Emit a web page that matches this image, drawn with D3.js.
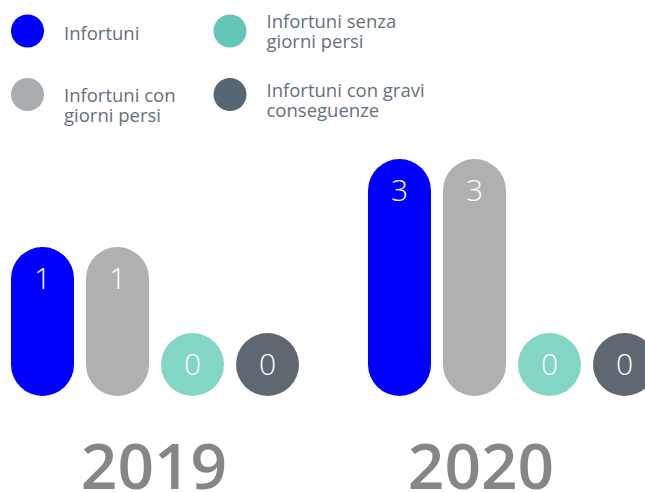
<!DOCTYPE html>
<html>
<head>
<meta charset="utf-8">
<script src="https://cdn.jsdelivr.net/npm/d3@7"></script>
<style>
	html, body { margin: 0; padding: 0; background: #fff; overflow: hidden; }
	svg { display: block; font-family: "Open Sans", sans-serif; }
</style>
</head>
<body>
<svg id="chart" width="645" height="492"></svg>
<script>
// dati
const years = ["2019", "2020"];
const seriesKeys = ["infortuni", "conGiorni", "senzaGiorni", "gravi"];
const legendLabels = [
	["Infortuni"],
	["Infortuni con", "giorni persi"],
	["Infortuni senza", "giorni persi"],
	["Infortuni con gravi", "conseguenze"]
];
const infortuni = [1, 3];
const conGiorni = [1, 3];
const senzaGiorni = [0, 0];
const gravi = [0, 0];

const barColors = ["#0000ff", "#b0b0b0", "#84d6c4", "#5f6770"];
const legendColors = ["#0000ff", "#a9adb0", "#64c6b6", "#566673"];

const values = { infortuni, conGiorni, senzaGiorni, gravi };

const svg = d3.select("#chart");
const baseY = 396;
const barW = 63;

// scale
const x0 = d3.scaleBand()
	.domain(years)
	.range([11, 725]);

const x1 = d3.scaleBand()
	.domain(seriesKeys)
	.range([0, 288])
	.paddingInner(0.16)
	.paddingOuter(0);

// altezza extra oltre il cerchio di base
const y = d3.scaleLinear()
	.domain([0, 1, 3])
	.range([0, 86, 174]);

const yearPos = d3.scalePoint()
	.domain(years)
	.range([154, 481]);

// legenda
const legendCol = d3.scaleOrdinal().domain(seriesKeys).range([27.5, 27.5, 230, 230]);
const legendRow = d3.scaleOrdinal().domain(seriesKeys).range([31, 94.5, 31, 94.5]);
// baseline della prima riga di testo
const legendBase = d3.scaleOrdinal().domain(seriesKeys).range([40, 102, 28, 97]);

const $legend = svg.append("g").attr("class", "legend");
seriesKeys.forEach((k, i) => {
	const cx = legendCol(k);
	const cy = legendRow(k);
	$legend.append("circle")
		.attr("cx", cx)
		.attr("cy", cy)
		.attr("r", 16.5)
		.attr("fill", legendColors[i]);

	const $t = $legend.append("text")
		.attr("font-size", 18.5)
		.attr("fill", "#65707a");
	legendLabels[i].forEach((line, j) => {
		$t.append("tspan")
			.attr("x", cx + 36.5)
			.attr("y", legendBase(k) + j * 19.5)
			.text(line);
	});
});

// barre
const $groups = svg.append("g")
	.selectAll("g")
	.data(years)
	.join("g")
	.attr("transform", d => `translate(${x0(d)},0)`);

$groups.each(function (year, yi) {
	const $g = d3.select(this);
	seriesKeys.forEach((k, si) => {
		const v = values[k][yi];
		const h = barW + y(v);
		const bx = x1(k);
		$g.append("rect")
			.attr("x", bx)
			.attr("y", baseY - h)
			.attr("width", x1.bandwidth())
			.attr("height", h)
			.attr("rx", x1.bandwidth() / 2)
			.attr("ry", x1.bandwidth() / 2)
			.attr("fill", barColors[si]);

		$g.append("text")
			.attr("x", bx + x1.bandwidth() / 2)
			.attr("y", baseY - h + x1.bandwidth() / 2)
			.attr("dy", "0.35em")
			.attr("text-anchor", "middle")
			.attr("font-size", 30)
			.attr("font-weight", 300)
			.attr("fill", "#fff")
			.text(v);
	});
});

// anni
svg.append("g")
	.selectAll("text")
	.data(years)
	.join("text")
	.attr("x", d => yearPos(d))
	.attr("y", 489)
	.attr("text-anchor", "middle")
	.attr("font-size", 64)
	.attr("font-weight", 600)
	.attr("fill", "#868686")
	.text(d => d);
</script>
</body>
</html>
